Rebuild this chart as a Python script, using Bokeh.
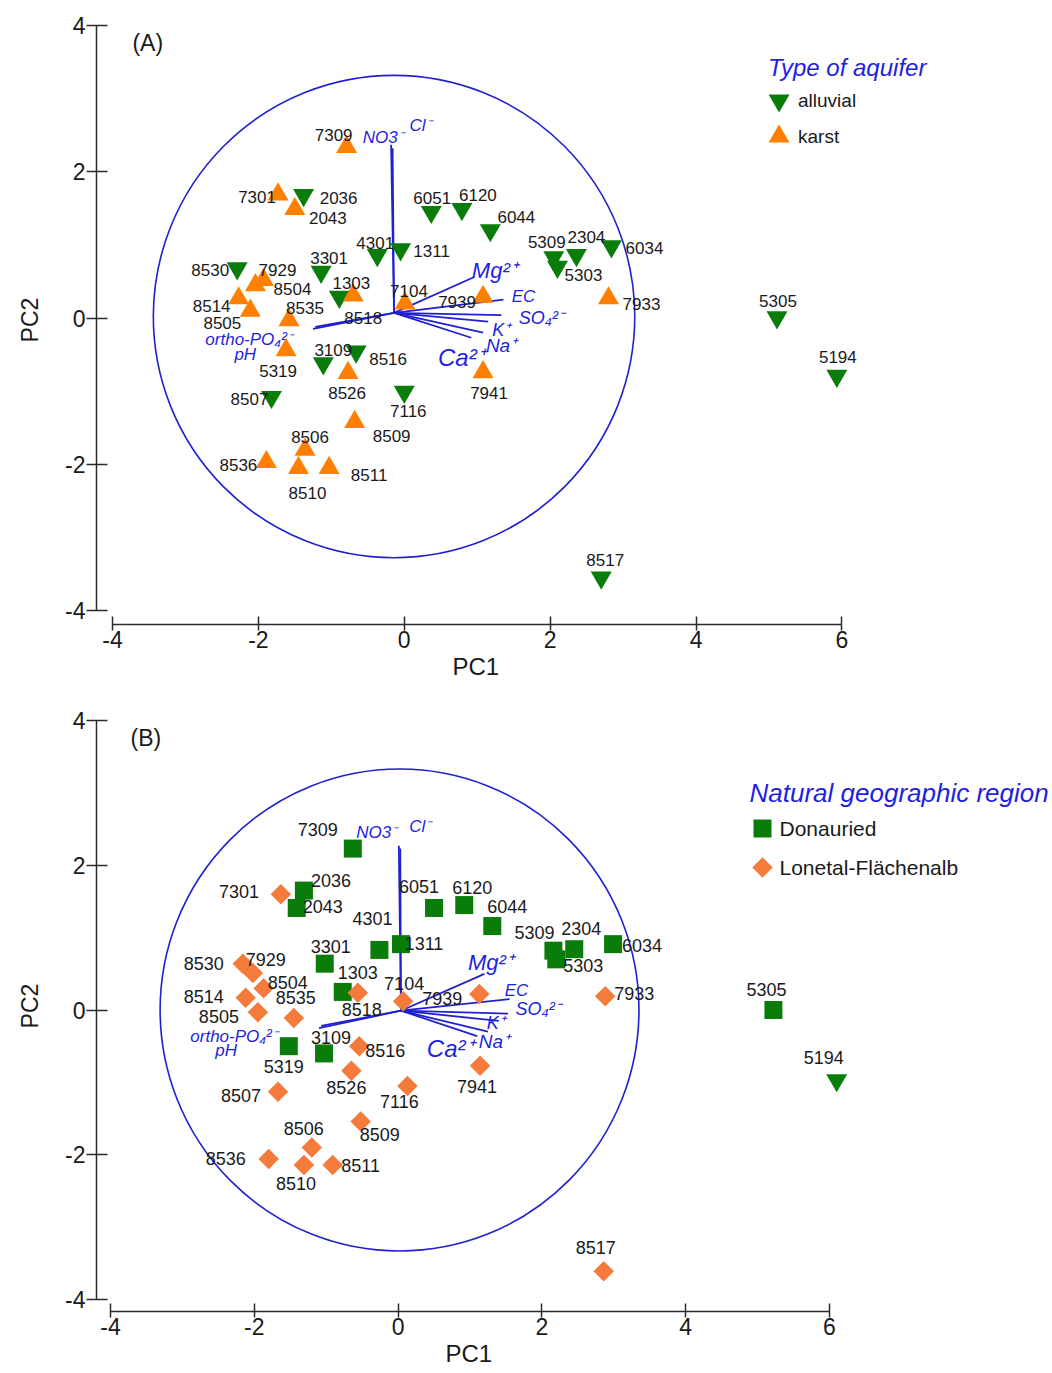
import pandas as pd
from bokeh.plotting import figure
from bokeh.models import ColumnDataSource, FixedTicker, Label, Range1d, Title
from bokeh.layouts import column
from bokeh.embed import file_html
from bokeh.resources import INLINE
from bokeh.core.properties import value

# ---------------- data: panel A (type of aquifer) ----------------
sites_a = ["7309", "7301", "2036", "2043", "6051", "6120", "6044", "4301", "1311", "5309",
           "5303", "2304", "6034", "7933", "5305", "5194", "8517", "8530", "7929", "8504",
           "8514", "8505", "8535", "3301", "1303", "8518", "7104", "7939", "3109", "8516",
           "5319", "8526", "8507", "7116", "7941", "8509", "8506", "8536", "8510", "8511"]
pc1_a = [-0.79, -1.73, -1.38, -1.50, 0.37, 0.79, 1.18, -0.37, -0.05, 2.05,
         2.10, 2.36, 2.84, 2.80, 5.11, 5.93, 2.70, -2.29, -1.93, -2.04,
         -2.27, -2.11, -1.58, -1.14, -0.89, -0.70, 0.01, 1.08, -1.11, -0.66,
         -1.62, -0.77, -1.82, 0.00, 1.08, -0.68, -1.36, -1.89, -1.45, -1.03]
pc2_a = [2.34, 1.69, 1.68, 1.49, 1.45, 1.49, 1.20, 0.86, 0.94, 0.83,
         0.70, 0.86, 0.98, 0.27, 0.01, -0.79, -3.55, 0.68, 0.52, 0.45,
         0.27, 0.10, -0.03, 0.63, 0.29, 0.31, 0.20, 0.29, -0.62, -0.46,
         -0.44, -0.75, -1.08, -1.01, -0.74, -1.42, -1.80, -1.97, -2.05, -2.05]
aquifer_a = ["karst", "karst", "alluvial", "karst", "alluvial", "alluvial", "alluvial", "alluvial", "alluvial", "alluvial",
             "alluvial", "alluvial", "alluvial", "karst", "alluvial", "alluvial", "alluvial", "alluvial", "karst", "karst",
             "karst", "karst", "karst", "alluvial", "alluvial", "karst", "karst", "karst", "alluvial", "alluvial",
             "karst", "karst", "alluvial", "alluvial", "karst", "karst", "karst", "karst", "karst", "karst"]

# ---------------- data: panel B (natural geographic region) ----------------
sites_b = list(sites_a)
pc1_b = [-0.63, -1.63, -1.31, -1.41, 0.50, 0.92, 1.31, -0.26, 0.04, 2.16,
         2.20, 2.45, 2.99, 2.88, 5.22, 6.10, 2.86, -2.16, -2.02, -1.87,
         -2.12, -1.95, -1.45, -1.02, -0.77, -0.56, 0.07, 1.13, -1.03, -0.54,
         -1.52, -0.65, -1.67, 0.13, 1.14, -0.52, -1.20, -1.80, -1.31, -0.91]
pc2_b = [2.23, 1.60, 1.65, 1.41, 1.41, 1.45, 1.16, 0.83, 0.91, 0.82,
         0.70, 0.84, 0.91, 0.19, 0.00, -0.97, -3.61, 0.64, 0.51, 0.30,
         0.17, -0.03, -0.11, 0.64, 0.25, 0.24, 0.12, 0.22, -0.60, -0.50,
         -0.50, -0.84, -1.13, -1.05, -0.77, -1.54, -1.90, -2.06, -2.14, -2.14]
region_b = ["Donauried", "Lonetal-Flächenalb", "Donauried", "Donauried", "Donauried", "Donauried", "Donauried",
            "Donauried", "Donauried", "Donauried", "Donauried", "Donauried", "Donauried", "Lonetal-Flächenalb",
            "Donauried", "Donauried", "Lonetal-Flächenalb", "Lonetal-Flächenalb", "Lonetal-Flächenalb",
            "Lonetal-Flächenalb", "Lonetal-Flächenalb", "Lonetal-Flächenalb", "Lonetal-Flächenalb", "Donauried",
            "Donauried", "Lonetal-Flächenalb", "Lonetal-Flächenalb", "Lonetal-Flächenalb", "Donauried",
            "Lonetal-Flächenalb", "Donauried", "Lonetal-Flächenalb", "Lonetal-Flächenalb", "Lonetal-Flächenalb",
            "Lonetal-Flächenalb", "Lonetal-Flächenalb", "Lonetal-Flächenalb", "Lonetal-Flächenalb",
            "Lonetal-Flächenalb", "Lonetal-Flächenalb"]
marker_exception_b = {"5194": "inverted_triangle"}

# ---------------- loadings (biplot vectors) ----------------
variables = ["NO3⁻", "Cl⁻", "Mg²⁺", "EC", "SO₄²⁻", "K⁺", "Na⁺", "Ca²⁺", "ortho-PO₄²⁻", "pH"]
load_pc1_a = [-0.04, -0.02, 1.10, 1.50, 1.47, 1.29, 1.22, 1.06, -1.11, -1.08]
load_pc2_a = [2.30, 2.25, 0.49, 0.18, -0.03, -0.12, -0.27, -0.34, -0.22, -0.19]
load_pc1_b = [-0.03, -0.01, 1.16, 1.51, 1.49, 1.36, 1.21, 1.06, -1.14, -1.11]
load_pc2_b = [2.28, 2.24, 0.51, 0.16, -0.04, -0.14, -0.29, -0.35, -0.24, -0.21]
origin_a = (-0.14, 0.07)
origin_b = (0.04, -0.01)
circle_a = (-0.14, 0.02, 3.30)
circle_b = (0.02, 0.00, 3.33)

x_ticks = [-4, -2, 0, 2, 4, 6]
y_ticks = [-4, -2, 0, 2, 4]

legend_a_title = "Type of aquifer"
legend_a_labels = ["alluvial", "karst"]
legend_b_title = "Natural geographic region"
legend_b_labels = ["Donauried", "Lonetal-Flächenalb"]

# ---------------- layout / style (not data) ----------------
GREEN = "#0a7c0a"
ORANGE = "#ff8000"
ORANGE2 = "#f47b3b"
BLUE = "#2020d0"
TBLUE = "#1f1fe0"
TXT = "#1a1a1a"
FONT = "Liberation Sans"

lab_off_a = [(-13, -12), (-21, 3), (35, 3), (33, 9), (1, -14), (16, -14), (26, -13), (-2, -12), (31, 2), (-7, -15),
             (26, 8), (10, -18), (33, 2), (33, 6), (1, -16), (1, -19), (4, -18), (-27, 2), (14, -10), (37, 4),
             (-27, 8), (-28, 12), (16, -12), (8, -14), (12, -14), (10, 23), (4, -12), (-26, 5), (10, -13), (32, 7),
             (-8, 21), (-1, 20), (-22, 2), (4, 19), (6, 21), (37, 14), (5, -13), (-28, 3), (9, 25), (40, 7)]
lab_off_b = [(-35, -19), (-42, -3), (27, -10), (26, -1), (-15, -21), (8, -18), (15, -20), (-7, -31), (23, -1), (-19, -18),
             (27, 6), (7, -21), (29, 1), (29, -3), (-7, -21), (-13, -23), (-8, -24), (-39, 0), (13, -14), (24, -6),
             (-42, -1), (-39, 4), (2, -20), (6, -17), (15, -19), (4, 17), (1, -18), (-37, 4), (7, -16), (26, 4),
             (-5, 20), (-5, 17), (-37, 4), (-8, 16), (-3, 21), (19, 13), (-8, -19), (-43, -1), (-8, 19), (28, 1)]
var_off_a = [(-8, -7), (28, -23), (20, -7), (20, -3), (40, 3), (13, 8), (18, 13), (-10, 20), (-64, 11), (-70, 28)]
var_off_b = [(-22, -13), (20, -22), (6, -11), (7, -9), (30, -5), (-3, 2), (6, 10), (-27, 12), (-85, 8), (-95, 25)]
var_size = ["17px", "17px", "22px", "17px", "18px", "18px", "19px", "24px", "17px", "17px"]

W = 1052


class Geom:
    """pixel layout of one panel (page pixels) -> data ranges and borders"""

    def __init__(self, x_m4, x_6, y_4, y_m4, top, height, f_left, f_right, f_top, f_bottom):
        self.x_m4, self.y_m4 = x_m4, y_m4
        self.sx = (x_6 - x_m4) / 10.0
        self.sy = (y_m4 - y_4) / 8.0
        self.f_left = f_left
        self.xr = (self.dx(f_left), self.dx(f_right))
        self.yr = (self.dy(f_bottom), self.dy(f_top))
        self.height = height
        self.borders = dict(min_border_left=f_left, min_border_right=W - f_right,
                            min_border_top=f_top - top, min_border_bottom=top + height - f_bottom)

    def dx(self, px):
        return -4 + (px - self.x_m4) / self.sx

    def dy(self, py):
        return -4 + (self.y_m4 - py) / self.sy


def base_figure(g, xlabel_left):
    p = figure(width=W, height=g.height, x_range=Range1d(*g.xr), y_range=Range1d(*g.yr),
               output_backend="svg", toolbar_location=None, **g.borders)
    p.outline_line_color = None
    p.xgrid.visible = False
    p.ygrid.visible = False
    for ax, b, t, tin, tout, so in ((p.xaxis, (-4, 6), x_ticks, 8, 6, 0), (p.yaxis, (-4, 4), y_ticks, 11, 10, 1)):
        ax.bounds = b
        ax.ticker = FixedTicker(ticks=t)
        ax.major_label_overrides = {v: str(v) for v in t}
        ax.axis_line_color = "#2b2b2b"
        ax.axis_line_width = 1.5
        ax.major_tick_line_color = "#2b2b2b"
        ax.major_tick_line_width = 1.5
        ax.major_tick_in = tin
        ax.major_tick_out = tout
        ax.minor_tick_in = 0
        ax.minor_tick_out = 0
        ax.major_label_text_font = FONT
        ax.major_label_text_font_size = "23px"
        ax.major_label_text_color = TXT
        ax.major_label_standoff = so
    p.yaxis.axis_label = "PC2"
    p.yaxis.axis_label_text_font = FONT
    p.yaxis.axis_label_text_font_style = "normal"
    p.yaxis.axis_label_text_font_size = "23px"
    p.yaxis.axis_label_text_color = TXT
    p.yaxis.axis_label_standoff = 19
    # x axis label placed as a below-title so it sits under the middle of the axis bounds
    p.add_layout(Title(text="PC1", align="left", offset=xlabel_left - g.f_left, standoff=0,
                       text_font=FONT, text_font_size="24px", text_font_style="normal",
                       text_color=TXT), "below")
    return p


def add_biplot(p, origin, circ, l1, l2, voff):
    cx, cy, r = circ
    p.ellipse(x=[cx], y=[cy], width=2 * r, height=2 * r, fill_color=None,
              line_color=BLUE, line_width=1.6)
    ox, oy = origin
    vsrc = ColumnDataSource(dict(
        x0=[ox] * len(l1), y0=[oy] * len(l1),
        x1=[ox + a for a in l1], y1=[oy + b for b in l2],
        name=variables, dx=[o[0] for o in voff], dy=[o[1] for o in voff], fs=var_size))
    p.segment(x0="x0", y0="y0", x1="x1", y1="y1", source=vsrc, line_color=BLUE, line_width=1.8)
    p.text(x="x1", y="y1", text="name", x_offset="dx", y_offset="dy", source=vsrc,
           text_align="center", text_baseline="middle", text_font=value(FONT),
           text_font_style="italic", text_font_size="fs", text_color=TBLUE)


def add_legend(p, g, title, title_px, title_fs, labels, markers, sizes, angles, colors,
               mk_x, text_x, rows_y, label_fs):
    p.add_layout(Label(x=g.dx(title_px[0]), y=g.dy(title_px[1]), text=title, text_font=FONT,
                       text_font_style="italic", text_font_size=title_fs, text_color=TBLUE,
                       text_baseline="middle"))
    src = ColumnDataSource(dict(
        x=[g.dx(mk_x)] * len(labels), y=[g.dy(v) for v in rows_y],
        tx=[g.dx(text_x)] * len(labels), lab=labels,
        mk=markers, sz=sizes, ang=angles, col=colors))
    p.scatter(x="x", y="y", marker="mk", size="sz", angle="ang", fill_color="col",
              line_color=None, source=src)
    p.text(x="tx", y="y", text="lab", source=src, text_align="left", text_baseline="middle",
           text_font=value(FONT), text_font_size=label_fs, text_color=TXT)


# ================= Panel A =================
HA = 688
gA = Geom(110, 841, 25, 610, 0, HA, 94, W, 15, 624)
pa = base_figure(gA, 450)
add_biplot(pa, origin_a, circle_a, load_pc1_a, load_pc2_a, var_off_a)

dfa = pd.DataFrame(dict(site=sites_a, pc1=pc1_a, pc2=pc2_a, grp=aquifer_a,
                        dx=[o[0] for o in lab_off_a], dy=[o[1] for o in lab_off_a]))
for grp, mk, col in (("alluvial", "inverted_triangle", GREEN), ("karst", "triangle", ORANGE)):
    src = ColumnDataSource(dfa[dfa.grp == grp])
    pa.scatter(x="pc1", y="pc2", source=src, marker=mk, size=21, fill_color=col, line_color=None)
pa.text(x="pc1", y="pc2", text="site", x_offset="dx", y_offset="dy", source=ColumnDataSource(dfa),
        text_align="center", text_baseline="middle", text_font=value(FONT),
        text_font_size="17px", text_color=TXT)

pa.add_layout(Label(x=gA.dx(130), y=gA.dy(42), text="(A)", text_font=FONT, text_font_size="23px",
                    text_color=TXT, text_baseline="middle"))
add_legend(pa, gA, legend_a_title, (767, 67), "24px", legend_a_labels,
           ["inverted_triangle", "triangle"], [21, 21], [0.0, 0.0], [GREEN, ORANGE],
           778, 797, [100, 136], "19px")

# ================= Panel B =================
topB = HA
HB = 1372 - topB
gB = Geom(110, 829, 720, 1299, topB, HB, 96, W, 700, 1311)
pb = base_figure(gB, 445)
add_biplot(pb, origin_b, circle_b, load_pc1_b, load_pc2_b, var_off_b)

dfb = pd.DataFrame(dict(site=sites_b, pc1=pc1_b, pc2=pc2_b, grp=region_b,
                        dx=[o[0] for o in lab_off_b], dy=[o[1] for o in lab_off_b]))
for grp, col in (("Donauried", GREEN), ("Lonetal-Flächenalb", ORANGE2)):
    d = dfb[dfb.grp == grp].copy()
    if grp == "Donauried":
        d["mk"] = [marker_exception_b.get(s, "square") for s in d.site]
        d["sz"] = [21 if m == "inverted_triangle" else 18 for m in d.mk]
        d["ang"] = 0.0
    else:
        d["mk"] = "square"
        d["sz"] = 14.5
        d["ang"] = 0.785398
    pb.scatter(x="pc1", y="pc2", source=ColumnDataSource(d), marker="mk", size="sz",
               angle="ang", fill_color=col, line_color=None)
pb.text(x="pc1", y="pc2", text="site", x_offset="dx", y_offset="dy", source=ColumnDataSource(dfb),
        text_align="center", text_baseline="middle", text_font=value(FONT),
        text_font_size="18px", text_color=TXT)

pb.add_layout(Label(x=gB.dx(130), y=gB.dy(737), text="(B)", text_font=FONT, text_font_size="23px",
                    text_color=TXT, text_baseline="middle"))
add_legend(pb, gB, legend_b_title, (749, 792), "26px", legend_b_labels,
           ["square", "square"], [18, 14.5], [0.0, 0.785398], [GREEN, ORANGE2],
           762, 779, [828, 867], "21px")

layout = column(pa, pb)
open("out.html", "w").write(file_html(layout, INLINE))
